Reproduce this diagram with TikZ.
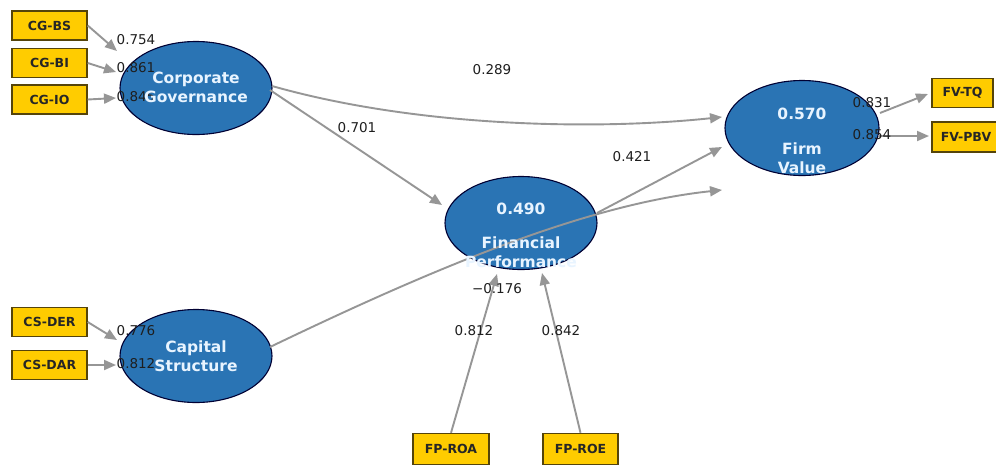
\documentclass[tikz,border=0pt]{standalone}
\usepackage{fontspec}
\setmainfont{DejaVu Sans}
\usetikzlibrary{shapes.geometric,arrows.meta}
\definecolor{lvblue}{RGB}{42,116,180}
\definecolor{lvtext}{RGB}{232,244,255}
\definecolor{boxfill}{RGB}{255,204,0}
\definecolor{boxline}{RGB}{85,68,10}
\definecolor{arrgray}{RGB}{150,150,150}
\definecolor{lbl}{RGB}{30,30,30}
\tikzset{
  latent/.style={ellipse,draw=black!80!blue,line width=1.1pt,fill=lvblue,minimum width=152pt,minimum height=93pt,inner sep=0pt},
  lvlabel/.style={text=lvtext,font=\fontsize{15.5}{19}\selectfont\bfseries,align=center,inner sep=0pt},
  indbox/.style={rectangle,draw=boxline,line width=1.4pt,fill=boxfill,minimum height=29pt,inner sep=0pt,font=\fontsize{12.5}{14}\selectfont\bfseries,text=black!85},
  arr/.style={draw=arrgray,line width=1.9pt,-{Triangle[length=12pt,width=10pt]},arrgray},
  coef/.style={text=lbl,font=\fontsize{13.5}{15}\selectfont,inner sep=0pt}
}
\begin{document}
\begin{tikzpicture}[x=1pt,y=-1pt]
\useasboundingbox (0,0) rectangle (996,464);
\fill[white] (0,0) rectangle (996,464);
% latent variables
\node[latent] (cg) at (196,88) {};
\node[latent] (cs) at (196,356) {};
\node[latent] (fp) at (521,223) {};
\node[latent,minimum width=154pt,minimum height=95pt] (fv) at (802,128) {};
% indicators
\node[indbox,minimum width=75pt] (cgbs) at (49.5,25.5) {CG-BS};
\node[indbox,minimum width=75pt] (cgbi) at (49.5,63) {CG-BI};
\node[indbox,minimum width=75pt] (cgio) at (49.5,99.5) {CG-IO};
\node[indbox,minimum width=75pt] (csder) at (49.5,322) {CS-DER};
\node[indbox,minimum width=75pt] (csdar) at (49.5,365) {CS-DAR};
\node[indbox,minimum width=76pt,minimum height=31pt] (fproa) at (451,449) {FP-ROA};
\node[indbox,minimum width=75pt,minimum height=31pt] (fproe) at (580.5,449) {FP-ROE};
\node[indbox,minimum width=61pt] (fvtq) at (962.5,93) {FV-TQ};
\node[indbox,minimum width=68pt,minimum height=30pt] (fvpbv) at (966,137) {FV-PBV};
% arrow tips and ends
\coordinate (t1) at (117,51);
\coordinate (t2) at (116,72);
\coordinate (t3) at (116,98);
\coordinate (t4) at (117,340);
\coordinate (t5) at (116,365);
\coordinate (troa) at (497,274);
\coordinate (troe) at (542,273);
\coordinate (fvo1) at (880,113);
\coordinate (fvo2) at (878,136);
\coordinate (tq) at (928,94);
\coordinate (tpbv) at (929,136);
\coordinate (cgo1) at (272,86);
\coordinate (cgo2) at (270,90);
\coordinate (tfp) at (442,205);
\coordinate (fpo) at (597,213);
\coordinate (tfv1) at (722,117);
\coordinate (tfv2) at (722,147);
\coordinate (tfv3) at (722,190);
\coordinate (cso) at (270,347);
% connectors
\draw[arr] (cgbs.east) -- (t1);
\draw[arr] (cgbi.east) -- (t2);
\draw[arr] (cgio.east) -- (t3);
\draw[arr] (csder.east) -- (t4);
\draw[arr] (csdar.east) -- (t5);
\draw[arr] (fproa.north) -- (troa);
\draw[arr] (fproe.north) -- (troe);
\draw[arr] (fvo1) -- (tq);
\draw[arr] (fvo2) -- (tpbv);
\draw[arr] (cgo1) .. controls (420,128) and (600,130) .. (tfv1);
\draw[arr] (cgo2) -- (tfp);
\draw[arr] (fpo) -- (tfv2);
\draw[arr] (cso) .. controls (420,275) and (580,205) .. (tfv3);
% coefficients
\node[coef] (l1) at (136,40) {0.754};
\node[coef] (l2) at (136,68) {0.861};
\node[coef] (l3) at (136,97) {0.845};
\node[coef] (l4) at (136,331) {0.776};
\node[coef] (l5) at (136,364) {0.812};
\node[coef] (l6) at (492,70) {0.289};
\node[coef] (l7) at (357,128) {0.701};
\node[coef] (l8) at (632,157) {0.421};
\node[coef] (l9) at (497,289) {−0.176};
\node[coef] (l10) at (474,331) {0.812};
\node[coef] (l11) at (561,331) {0.842};
\node[coef] (l12) at (872,103) {0.831};
\node[coef] (l13) at (872,135) {0.854};
% latent texts
\node[lvlabel] (cgt) at (196,87.5) {Corporate\\Governance};
\node[lvlabel] (cst) at (196,356) {Capital\\Structure};
\node[lvlabel] (fpv) at (521,209) {0.490};
\node[lvlabel] (fpt) at (521,252) {Financial\\Performance};
\node[lvlabel] (fvv) at (802,114) {0.570};
\node[lvlabel] (fvt) at (802,158) {Firm\\Value};
\end{tikzpicture}
\end{document}
